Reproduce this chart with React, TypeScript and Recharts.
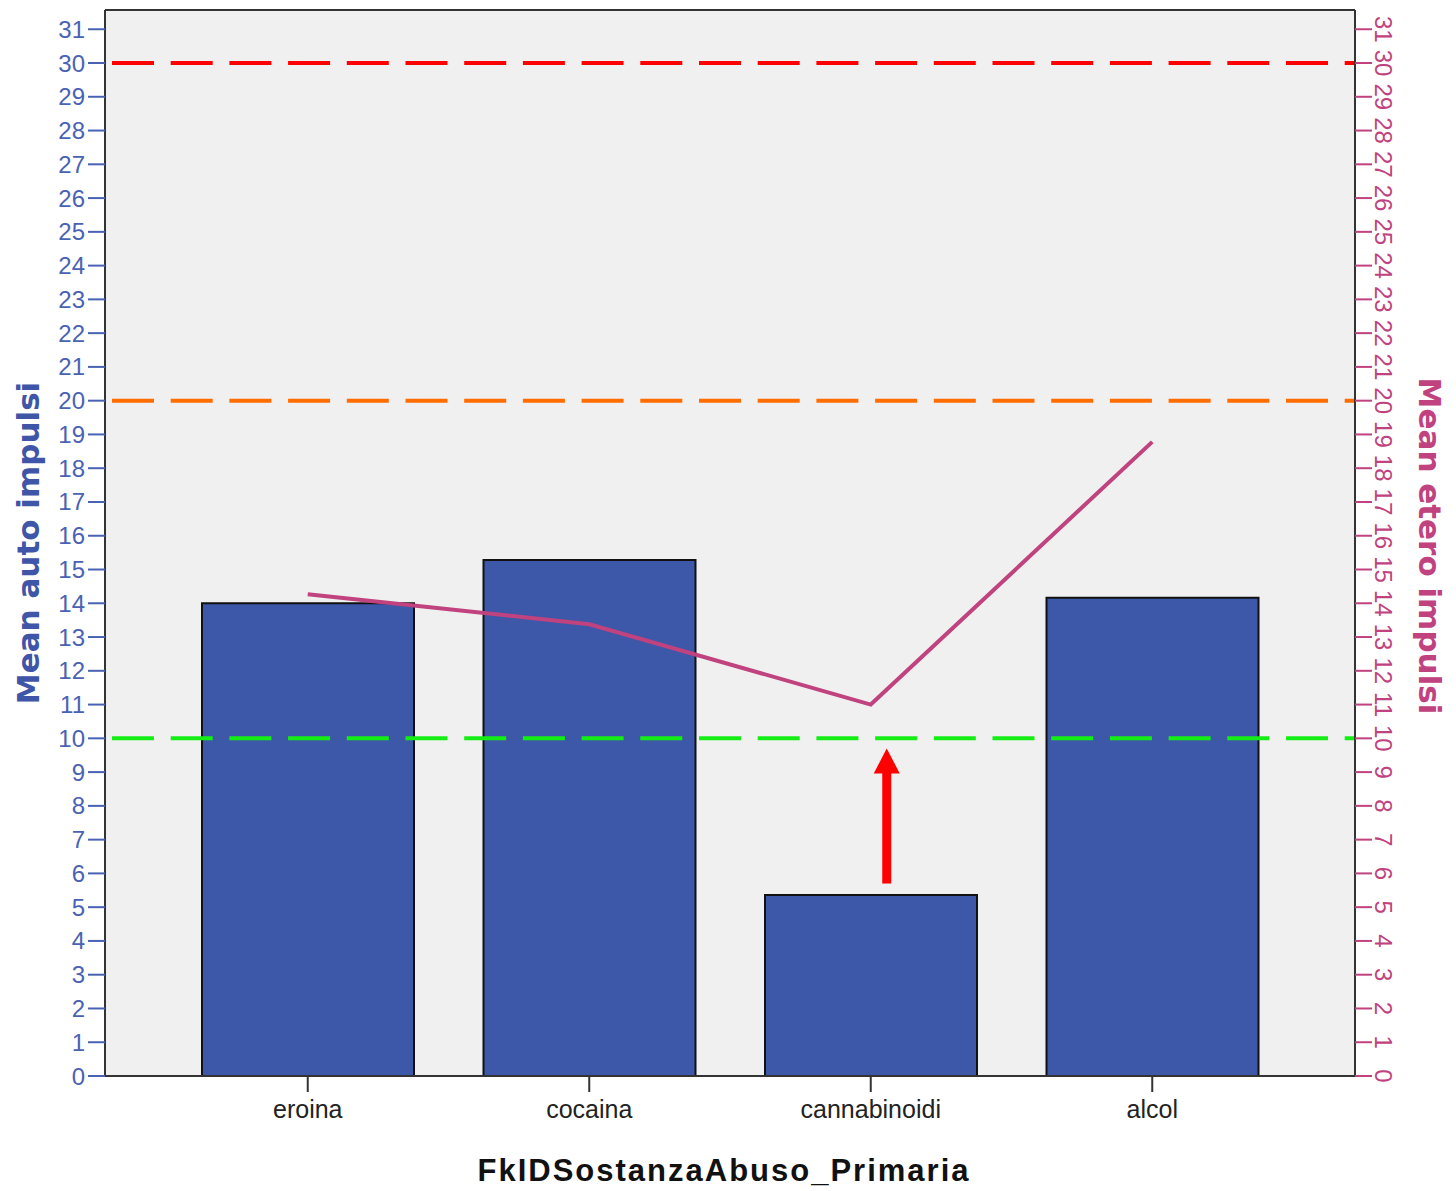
import React from 'react';
import {
  ComposedChart,
  Bar,
  Line,
  XAxis,
  YAxis,
  ReferenceLine,
  CartesianGrid,
} from 'recharts';

// ---- data ----
const categories = ['eroina', 'cocaina', 'cannabinoidi', 'alcol'];
const autoImpulsi = [14.0, 15.28, 5.36, 14.16];
const eteroImpulsi = [14.27, 13.38, 11.0, 18.78];
const yTicks = [0, 1, 2, 3, 4, 5, 6, 7, 8, 9, 10, 11, 12, 13, 14, 15, 16, 17, 18, 19, 20, 21, 22, 23, 24, 25, 26, 27, 28, 29, 30, 31];
const yMax = 31.57;
const thresholdValues = [30, 20, 10];
const thresholdColors = ['#ff0000', '#ff6c00', '#14ee14'];
const arrowCategory = 'cannabinoidi';
const arrowFrom = 5.7;
const arrowTo = 9.7;

const xTitle = 'FkIDSostanzaAbuso_Primaria';
const leftTitle = 'Mean auto impulsi';
const rightTitle = 'Mean etero impulsi';

const data = categories.map((name, i) => ({
  name,
  auto: autoImpulsi[i],
  etero: eteroImpulsi[i],
}));

// ---- styles ----
const BLUE = '#4a62b4';
const BLUE_TITLE = '#3f56a8';
const PINK = '#c0427e';
const BAR_FILL = '#3d57a9';
const BORDER = '#333333';
const TICK_FONT = '"Liberation Sans", Arial, sans-serif';
const TITLE_FONT = '"DejaVu Sans", Verdana, sans-serif';

const RightTick = (props: any) => {
  const { x, y, payload } = props;
  const cx = x + 11;
  return (
    <text
      x={cx}
      y={y}
      transform={`rotate(90 ${cx} ${y})`}
      textAnchor="middle"
      dominantBaseline="central"
      fill={PINK}
      fontSize={24}
      fontFamily={TICK_FONT}
    >
      {payload.value}
    </text>
  );
};

const LeftTitle = (props: any) => {
  const vb = props.viewBox || {};
  const cx = vb.x + 20;
  const cy = vb.y + vb.height / 2;
  return (
    <text
      x={cx}
      y={cy}
      transform={`rotate(-90 ${cx} ${cy})`}
      textAnchor="middle"
      dominantBaseline="central"
      fill={BLUE_TITLE}
      fontSize={31}
      fontWeight="bold"
      fontFamily={TITLE_FONT}
    >
      {leftTitle}
    </text>
  );
};

const RightTitle = (props: any) => {
  const vb = props.viewBox || {};
  const cx = vb.x + vb.width - 26;
  const cy = vb.y + vb.height / 2 + 3;
  return (
    <text
      x={cx}
      y={cy}
      transform={`rotate(90 ${cx} ${cy})`}
      textAnchor="middle"
      dominantBaseline="central"
      fill={PINK}
      fontSize={31}
      fontWeight="bold"
      fontFamily={TITLE_FONT}
    >
      {rightTitle}
    </text>
  );
};

const XTitle = (props: any) => {
  const vb = props.viewBox || {};
  const cx = vb.x + vb.width / 2 - 6;
  const cy = vb.y + 94;
  return (
    <text
      x={cx}
      y={cy}
      textAnchor="middle"
      dominantBaseline="central"
      fill="#111"
      fontSize={31}
      letterSpacing={2}
      fontWeight="bold"
      fontFamily={TICK_FONT}
    >
      {xTitle}
    </text>
  );
};

const ArrowShape = (props: any) => {
  const { x1, y1, y2 } = props;
  const x = x1 + 16;
  const tail = Math.max(y1, y2);
  const tip = Math.min(y1, y2);
  const headLen = 25;
  const headHalf = 13;
  const shaftHalf = 4.5;
  return (
    <g>
      <rect
        x={x - shaftHalf}
        y={tip + headLen - 1}
        width={shaftHalf * 2}
        height={tail - tip - headLen + 1}
        fill="#ff0000"
      />
      <polygon
        points={`${x},${tip} ${x - headHalf},${tip + headLen} ${x + headHalf},${tip + headLen}`}
        fill="#ff0000"
      />
    </g>
  );
};

export default function App() {
  return (
    <div style={{ width: 1448, height: 1183 }}>
      <ComposedChart
        width={1448}
        height={1183}
        data={data}
        margin={{ top: 2, right: 0, bottom: 0, left: 0 }}
      >
        <CartesianGrid
          yAxisId="left"
          horizontal={false}
          vertical={false}
          fill="#f0f0f0"
          stroke="none"
        />
        <XAxis
          dataKey="name"
          height={115}
          padding={{ left: 62, right: 62 }}
          interval={0}
          tickSize={16}
          tickMargin={8}
          axisLine={{ stroke: BORDER, strokeWidth: 2 }}
          tickLine={{ stroke: BORDER, strokeWidth: 2 }}
          tick={{ fill: '#222', fontSize: 25, fontFamily: TICK_FONT }}
          label={XTitle}
        />
        <YAxis
          yAxisId="left"
          orientation="left"
          width={97}
          type="number"
          domain={[0, yMax]}
          allowDataOverflow={true}
          ticks={yTicks}
          interval={0}
          tickSize={17}
          tickMargin={3}
          axisLine={{ stroke: BORDER, strokeWidth: 2 }}
          tickLine={{ stroke: BLUE, strokeWidth: 2 }}
          tick={{ fill: BLUE, fontSize: 24, fontFamily: TICK_FONT }}
          label={LeftTitle}
        />
        <YAxis
          yAxisId="right"
          orientation="right"
          width={101}
          type="number"
          domain={[0, yMax]}
          allowDataOverflow={true}
          ticks={yTicks}
          interval={0}
          tickSize={17}
          tickMargin={0}
          axisLine={{ stroke: BORDER, strokeWidth: 2 }}
          tickLine={{ stroke: PINK, strokeWidth: 2 }}
          tick={<RightTick />}
          label={RightTitle}
        />
        <Bar
          yAxisId="left"
          dataKey="auto"
          barSize={212}
          fill={BAR_FILL}
          stroke="#111"
          strokeWidth={2}
          isAnimationActive={false}
        />
        <Line
          yAxisId="right"
          type="linear"
          dataKey="etero"
          stroke={PINK}
          strokeWidth={4}
          dot={false}
          activeDot={false}
          isAnimationActive={false}
        />
        {thresholdValues.map((v, i) => (
          <ReferenceLine
            key={v}
            yAxisId="left"
            y={v}
            stroke={thresholdColors[i]}
            strokeWidth={4}
            strokeDasharray="42 16.7"
            strokeDashoffset={51.7}
          />
        ))}
        <ReferenceLine
          yAxisId="left"
          y={yMax}
          stroke={BORDER}
          strokeWidth={2}
          ifOverflow="visible"
        />
        <ReferenceLine
          yAxisId="left"
          segment={[
            { x: arrowCategory, y: arrowFrom },
            { x: arrowCategory, y: arrowTo },
          ]}
          ifOverflow="visible"
          shape={ArrowShape}
        />
      </ComposedChart>
    </div>
  );
}
